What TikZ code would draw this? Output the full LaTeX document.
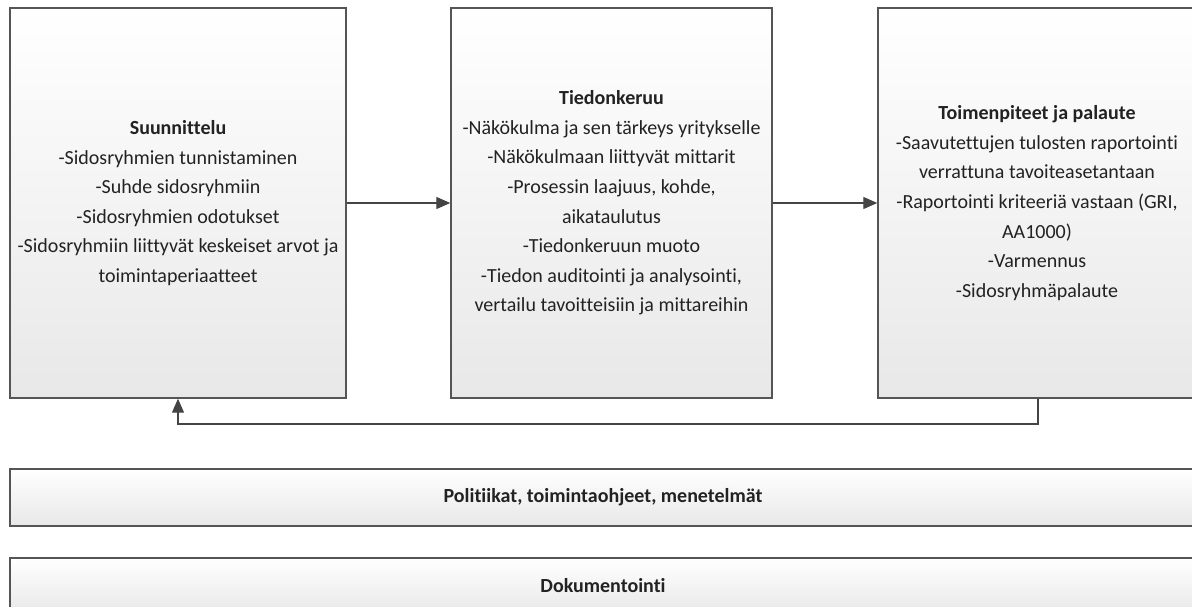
\documentclass[tikz,border=0pt]{standalone}
\usepackage{fontspec}
\setmainfont{Carlito}[Ligatures={NoCommon,NoRare,NoContextual}]
\usetikzlibrary{arrows.meta}
\definecolor{edge}{HTML}{555555}
\definecolor{txt}{HTML}{222222}
\tikzset{
  phase/.style={draw=edge, line width=1.4pt, top color=white, bottom color=black!9,
    rectangle, inner sep=0pt, align=center, text=txt,
    font=\fontsize{20}{29.6}\selectfont},
  band/.style={phase, font=\fontsize{20}{29.6}\selectfont\bfseries},
  link/.style={draw=edge!80!black, line width=1.2pt, -{Triangle[length=14pt,width=12pt]}}
}
\begin{document}
\begin{tikzpicture}[x=1pt,y=-1pt]
\useasboundingbox (0,0) rectangle (1192,607);
\node[phase, minimum width=336pt, minimum height=390pt] (plan) at (178,203)
  {\textbf{Suunnittelu}\\-Sidosryhmien tunnistaminen\\-Suhde sidosryhmiin\\-Sidosryhmien odotukset\\-Sidosryhmiin liittyvät keskeiset arvot ja\\toimintaperiaatteet};
\node[phase, minimum width=321pt, minimum height=390pt] (collect) at (611.5,203)
  {\textbf{Tiedonkeruu}\\-Näkökulma ja sen tärkeys yritykselle\\-Näkökulmaan liittyvät mittarit\\-Prosessin laajuus, kohde,\\aikataulutus\\-Tiedonkeruun muoto\\-Tiedon auditointi ja analysointi,\\vertailu tavoitteisiin ja mittareihin};
\node[phase, minimum width=318pt, minimum height=390pt] (act) at (1037,203)
  {\textbf{Toimenpiteet ja palaute}\\-Saavutettujen tulosten raportointi\\verrattuna tavoiteasetantaan\\-Raportointi kriteeriä vastaan (GRI,\\AA1000)\\-Varmennus\\-Sidosryhmäpalaute};
\node[band, minimum width=1186pt, minimum height=57pt] (policy) at (603,497.5)
  {Politiikat, toimintaohjeet, menetelmät};
\node[band, minimum width=1186pt, minimum height=56pt] (doc) at (603,586)
  {Dokumentointi};
\draw[link] (plan.east) -- (collect.west);
\draw[link] (collect.east) -- (act.west);
\coordinate (fbR) at (1038,424);
\coordinate (fbL) at (178,424);
\draw[link] (act.south -| fbR) -- (fbR) -- (fbL) -- (plan.south);
\end{tikzpicture}
\end{document}
